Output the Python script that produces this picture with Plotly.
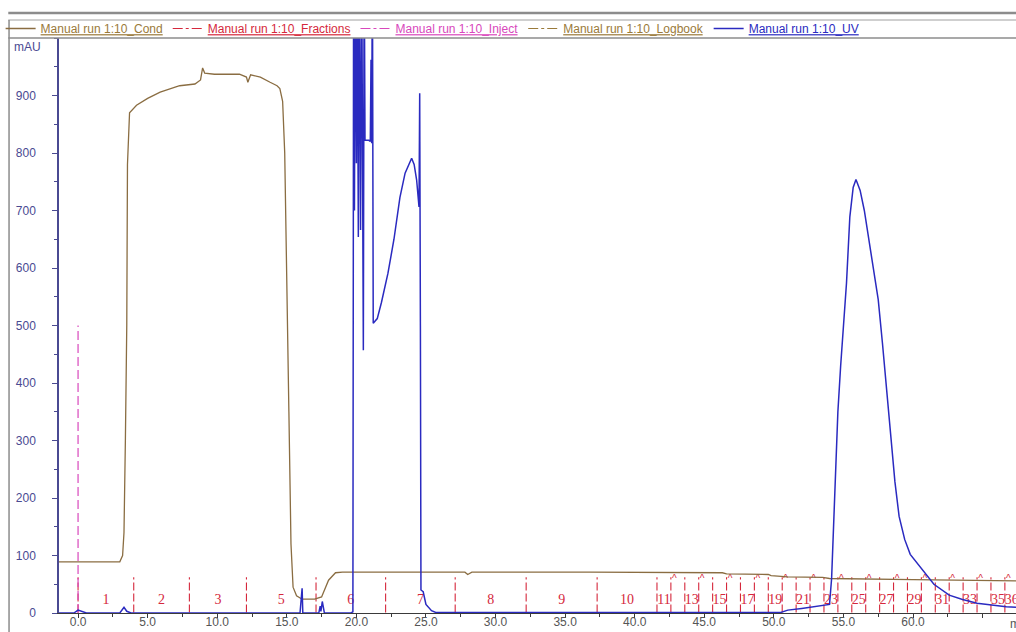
import plotly.graph_objects as go

# ---------------- data ----------------
# Conductivity trace (ml, value on mAU scale)
cond_ml = [-1.4, 3.0, 3.2, 3.3, 3.4, 3.5, 3.55, 3.7, 4.2, 5.0, 5.9, 7.3, 8.4, 8.8, 8.95, 9.1,
           9.8, 11.6, 12.1, 12.2, 12.4, 13.1, 13.8, 14.3, 14.5, 14.7, 14.85, 15.0, 15.15, 15.3,
           15.45, 15.7, 16.1, 17.0, 17.5, 18.0, 18.5, 19.0, 27.8, 28.0, 28.3, 36.8, 46.3, 46.6,
           49.6, 49.8, 50.8, 51.0, 53.5, 54.0, 60.0, 67.4]
cond_val = [89, 89, 100, 140, 300, 500, 780, 870, 883, 895, 906, 917, 920, 927, 948, 939,
            937, 937, 932, 923, 936, 932, 923, 917, 912, 890, 800, 600, 350, 120,
            45, 30, 24, 24, 28, 57, 70, 71, 71, 67, 71, 71, 70, 68,
            67, 65, 64, 63, 62, 60, 58, 56]

# UV trace
uv_ml = [-1.4, -0.3, 0.0, 0.3, 0.6, 3.0, 3.3, 3.5, 3.8, 15.95, 16.05, 16.1, 16.15, 17.3,
         17.4, 17.45, 17.55, 17.7, 19.6, 19.75, 19.78, 19.80, 19.86, 19.92, 20.0, 20.06,
         20.14, 20.2, 20.3, 20.38, 20.5, 20.56, 20.62, 20.9, 21.0, 21.05, 21.1, 21.15, 21.21,
         21.5, 21.8, 22.27, 22.7, 23.13, 23.5, 23.97, 24.15, 24.33, 24.5, 24.55, 24.6, 24.64,
         24.8, 25.0, 25.4, 25.7, 50.5, 51.0, 52.0, 53.0, 53.5, 54.0, 54.15, 54.3, 54.45, 54.6,
         54.8, 55.0, 55.22, 55.46, 55.7, 55.9, 56.2, 56.5, 56.9, 57.2, 57.5, 57.8, 58.1,
         58.4, 58.7, 59.0, 59.4, 59.8, 60.2, 60.7, 61.5, 62.6, 63.5, 64.6, 65.5, 66.7, 67.4]
uv_val = [0, 0, 5, 2, 0, 0, 10, 3, 0, 0, 43, 43, 0, 0,
          12, 3, 20, 0, 0, 2, 654, 1150, 700, 1150, 782, 1150,
          654, 1150, 666, 1150, 457, 1150, 822, 822, 820, 962, 817, 1150, 504,
          512, 540, 591, 650, 723, 765, 791, 780, 753, 706, 904, 500, 40,
          37, 15, 4, 1, 1, 5, 8, 12, 13, 15, 60, 160, 260, 350,
          430, 500, 574, 689, 740, 754, 735, 700, 640, 595, 545, 470, 390,
          305, 228, 168, 128, 102, 90, 74, 50, 31, 24, 17, 14, 11, 10]

# Fractions (start in ml) and their labels ("" = not labelled)
fraction_starts = [0.0, 4.0, 8.0, 12.1, 17.1, 22.1, 27.1, 32.2, 37.3,
                   41.6, 42.6, 43.6, 44.6, 45.6, 46.6, 47.6, 48.6, 49.6, 50.6, 51.6, 52.6,
                   53.6, 54.6, 55.6, 56.6, 57.6, 58.6, 59.6, 60.6, 61.6, 62.6, 63.6, 64.6,
                   65.6, 66.6]
fraction_end = 67.6
fraction_names = ["1", "2", "3", "5", "6", "7", "8", "9", "10",
                  "11", "12", "13", "14", "15", "16", "17", "18", "19", "20", "21", "22",
                  "23", "24", "25", "26", "27", "28", "29", "30", "31", "32", "33", "34",
                  "35", "36"]
fraction_shown = ["1", "2", "3", "5", "6", "7", "8", "9", "10",
                  "11", "", "13", "", "15", "", "17", "", "19", "", "21", "",
                  "23", "", "25", "", "27", "", "29", "", "31", "", "33", "",
                  "35", "36"]
flagged_fractions = ["12", "14", "16", "18", "20", "22", "24", "26", "28", "30",
                     "32", "34", "36"]

inject_ml = [0.0]
inject_height = 500

x_tick_vals = [0, 5, 10, 15, 20, 25, 30, 35, 40, 45, 50, 55, 60, 65]
x_tick_text = ["0.0", "5.0", "10.0", "15.0", "20.0", "25.0", "30.0", "35.0", "40.0",
               "45.0", "50.0", "55.0", "60.0", ""]
y_tick_vals = [0, 100, 200, 300, 400, 500, 600, 700, 800, 900]

# ---------------- styles ----------------
C_COND = "#8a6d42"
C_COND_TXT = "#9a7a3a"
C_FRAC = "#d5283c"
C_INJ = "#d848bc"
C_LOG = "#9a7a3a"
C_UV = "#2a2ac0"
C_AXIS = "#4a4a92"
FONT = "Liberation Sans, Arial, sans-serif"
DASH = "10px,3px,3px,3px"


def lname(txt, col):
    return f'<span style="color:{col}"><u>{txt}</u></span>'


fig = go.Figure()

# Fraction lines
fx, fy = [], []
for s in fraction_starts:
    fx += [s, s, None]
    fy += [1, 62, None]
fig.add_trace(go.Scatter(x=fx, y=fy, mode="lines",
                         line=dict(color=C_FRAC, width=1.1, dash="8px,3px"),
                         showlegend=False, hoverinfo="skip"))

# Fraction labels at mid points
ends = fraction_starts[1:] + [fraction_end]
lx, lt = [], []
for s, e, t in zip(fraction_starts, ends, fraction_shown):
    if t:
        lx.append((s + e) / 2)
        lt.append(t)
fig.add_trace(go.Scatter(x=lx, y=[22] * len(lx), mode="text", text=lt,
                         textfont=dict(family="Liberation Serif, Times New Roman, serif",
                                       size=14, color=C_FRAC),
                         showlegend=False, hoverinfo="skip", cliponaxis=False))

# Flags on alternate small fractions
gx = [s + 0.25 for s, n in zip(fraction_starts, fraction_names) if n in flagged_fractions]
fig.add_trace(go.Scatter(x=gx, y=[58] * len(gx), mode="text", text=["^"] * len(gx),
                         textfont=dict(family=FONT, size=10, color=C_FRAC),
                         showlegend=False, hoverinfo="skip"))

# Inject
ix, iy = [], []
for s in inject_ml:
    ix += [s, s, None]
    iy += [0, inject_height, None]
fig.add_trace(go.Scatter(x=ix, y=iy, mode="lines",
                         line=dict(color=C_INJ, width=1.2, dash="9px,4px"),
                         showlegend=False, hoverinfo="skip"))

# Conductivity
fig.add_trace(go.Scatter(x=cond_ml, y=cond_val, mode="lines",
                         line=dict(color=C_COND, width=1.3),
                         name=lname("Manual run 1:10_Cond", C_COND_TXT), legendrank=1))
# legend entries for the event curves
fig.add_trace(go.Scatter(x=[None], y=[None], mode="lines",
                         line=dict(color=C_FRAC, width=1.2, dash=DASH),
                         name=lname("Manual run 1:10_Fractions", C_FRAC), legendrank=2))
fig.add_trace(go.Scatter(x=[None], y=[None], mode="lines",
                         line=dict(color=C_INJ, width=1.2, dash=DASH),
                         name=lname("Manual run 1:10_Inject", C_INJ), legendrank=3))
fig.add_trace(go.Scatter(x=[None], y=[None], mode="lines",
                         line=dict(color=C_LOG, width=1.2, dash=DASH),
                         name=lname("Manual run 1:10_Logbook", C_LOG), legendrank=4))
# UV
fig.add_trace(go.Scatter(x=uv_ml, y=uv_val, mode="lines",
                         line=dict(color=C_UV, width=1.5),
                         name=lname("Manual run 1:10_UV", C_UV), legendrank=5))

fig.update_layout(
    width=1016, height=632,
    margin=dict(l=59, r=0, t=38, b=19),
    paper_bgcolor="white", plot_bgcolor="white",
    font=dict(family=FONT, size=12, color="#333"),
    showlegend=True,
    legend=dict(orientation="h", x=-0.061, xanchor="left", y=1.0 + 24 / 575, yanchor="top",
                font=dict(family=FONT, size=12), bgcolor="rgba(0,0,0,0)",
                itemwidth=30, traceorder="normal"),
    xaxis=dict(range=[-1.37, 67.4], showgrid=False, zeroline=False, showline=True,
               automargin=False, ticklabelstandoff=-6,
               linecolor="#3a3a3a", linewidth=1, ticks="outside", ticklen=4,
               tickcolor="#3a3a3a", tickvals=x_tick_vals, ticktext=x_tick_text,
               tickfont=dict(family=FONT, size=12, color="#555555"),
               minor=dict(dtick=2.5, tick0=0, ticks="outside", ticklen=3, tickcolor="#3a3a3a")),
    yaxis=dict(range=[0, 1000], showgrid=False, zeroline=False, showline=True,
               automargin=False,
               linecolor=C_AXIS, linewidth=1.5, ticks="outside", ticklen=5,
               tickcolor=C_AXIS, tickvals=y_tick_vals, ticklabelstandoff=14,
               tickfont=dict(family=FONT, size=12, color=C_AXIS),
               minor=dict(dtick=50, tick0=0, ticks="outside", ticklen=3, tickcolor=C_AXIS)),
)

# frame decorations
fig.add_shape(type="line", xref="paper", yref="paper", x0=-0.053, x1=1.0,
              y0=(613 - 13) / 575, y1=(613 - 13) / 575, line=dict(color="#8c8c8c", width=2.5))
fig.add_shape(type="line", xref="paper", yref="paper", x0=-0.053, x1=1.0,
              y0=(613 - 20) / 575, y1=(613 - 20) / 575, line=dict(color="#a0a0a0", width=1))
fig.add_shape(type="line", xref="paper", yref="paper", x0=-0.053, x1=1.0,
              y0=1.0, y1=1.0, line=dict(color="#8c8c8c", width=1.5))
fig.add_shape(type="line", xref="paper", yref="paper", x0=-0.0522, x1=-0.0522,
              y0=-0.04, y1=(613 - 20) / 575, line=dict(color="#8c8c8c", width=1.5))

fig.add_annotation(text="mAU", xref="paper", yref="paper", x=(12 - 59) / 957, xanchor="left",
                   y=1.0 - 9 / 575, yanchor="middle", showarrow=False,
                   font=dict(family=FONT, size=12, color=C_AXIS))
fig.add_annotation(text="ml", xref="paper", yref="paper", x=(1008 - 59) / 957, xanchor="left",
                   y=-11 / 575, yanchor="middle", showarrow=False,
                   font=dict(family=FONT, size=12, color="#555555"))

fig.write_html("out.html", config={"displayModeBar": False},
               post_script="document.body.style.margin='0';")
